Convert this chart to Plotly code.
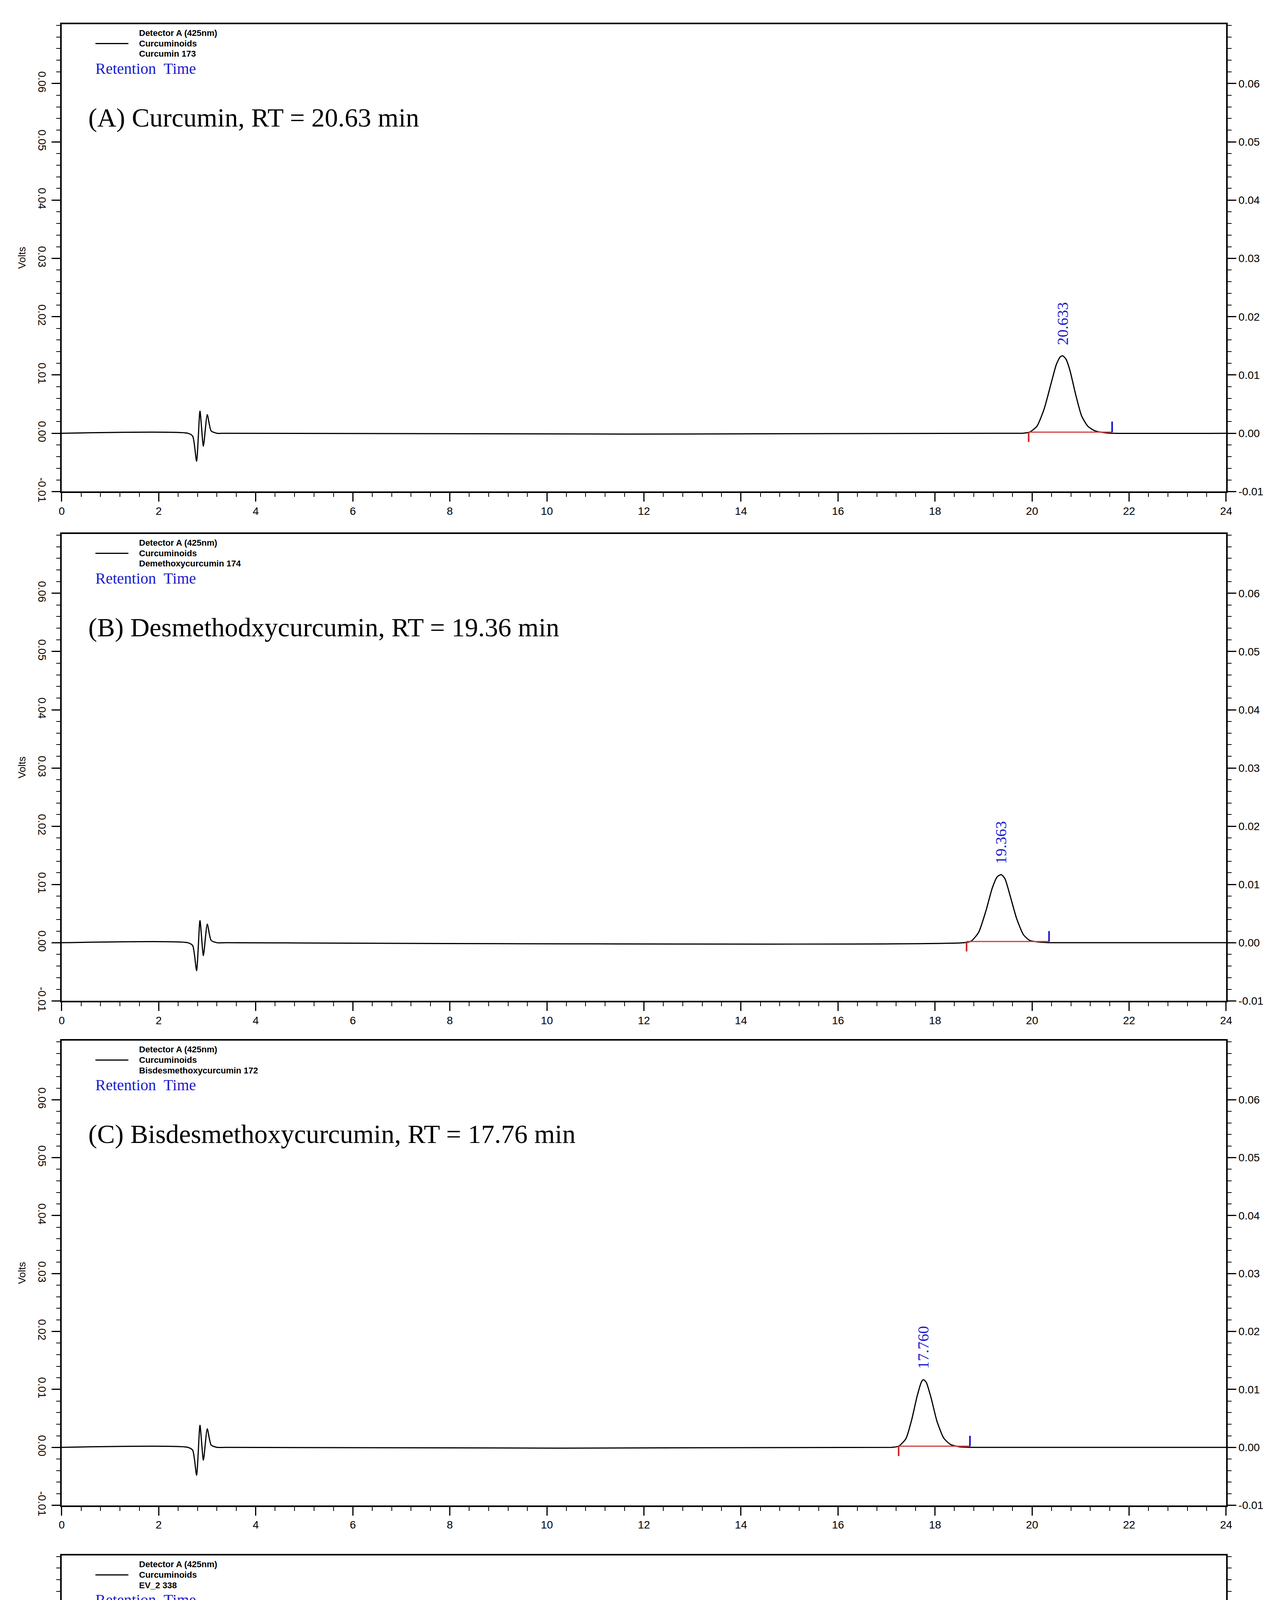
import plotly.graph_objects as go

# injection disturbance, shared by all runs (minutes, volts)
inj_t = [0.0, 2.6, 2.7, 2.78, 2.85, 2.92, 3.0, 3.08, 3.2, 3.4]
inj_v = [0.0, 0.0, -0.0005, -0.0048, 0.0038, -0.0022, 0.0032, 0.0004, 0.0, 0.0]

# chromatogram points after the injection, per run
peak_t = {
    "A": [3.4, 19.8, 19.95, 20.1, 20.25, 20.4, 20.5, 20.58, 20.63, 20.7, 20.78, 20.9, 21.02, 21.15, 21.3, 21.5, 21.7, 24.0],
    "B": [3.4, 18.6, 18.75, 18.9, 19.05, 19.18, 19.28, 19.363, 19.44, 19.55, 19.68, 19.82, 19.95, 20.15, 20.4, 24.0],
    "C": [3.4, 17.1, 17.25, 17.4, 17.52, 17.63, 17.72, 17.76, 17.82, 17.92, 18.04, 18.18, 18.32, 18.5, 18.8, 24.0],
    "D": [3.4, 5.0, 5.2, 5.4, 10.3, 10.5, 10.7, 17.2, 17.45, 17.6, 17.75, 17.88, 17.983, 18.08, 18.2, 18.35, 18.5, 18.65,
          18.8, 18.95, 19.1, 19.2, 19.26, 19.33, 19.45, 19.6, 19.75, 19.9, 20.05, 20.2, 20.35, 20.48, 20.587, 20.68,
          20.82, 20.98, 21.15, 21.35, 21.6, 22.6, 24.0],
}
peak_v = {
    "A": [0.0, 0.0, 0.0002, 0.0012, 0.0042, 0.0088, 0.0118, 0.0131, 0.0133, 0.0127, 0.0108, 0.0066, 0.003, 0.0012, 0.0004, 0.0001, 0.0, 0.0],
    "B": [0.0, 0.0, 0.0003, 0.0018, 0.0055, 0.0094, 0.0113, 0.0117, 0.011, 0.008, 0.0042, 0.0014, 0.0004, 0.0001, 0.0, 0.0],
    "C": [0.0, 0.0, 0.0002, 0.0015, 0.0048, 0.0088, 0.0113, 0.0117, 0.0112, 0.0085, 0.0045, 0.0016, 0.0005, 0.0001, 0.0, 0.0],
    "D": [0.0, 0.0, 0.0004, 0.0, 0.0, 0.0002, 0.0, 0.0, 0.0004, 0.0025, 0.0085, 0.0165, 0.019, 0.0172, 0.0112, 0.0045, 0.0012,
          0.0002, 0.0014, 0.0055, 0.0112, 0.0148, 0.0155, 0.0145, 0.0098, 0.004, 0.0011, 0.0002, 0.0012, 0.0065, 0.0175,
          0.0272, 0.031, 0.0285, 0.0185, 0.0075, 0.0022, 0.0006, 0.0001, 0.0, 0.0],
}

# integration marks
red_marks = {"A": [19.93], "B": [18.65], "C": [17.25], "D": [17.43, 18.66, 19.9]}
blue_marks = {"A": [21.65], "B": [20.35], "C": [18.72], "D": [18.66, 19.9, 21.75]}
rt_labels = {"A": [20.633], "B": [19.363], "C": [17.76], "D": [17.983, 19.26, 20.587]}
rt_text = {"A": ["20.633"], "B": ["19.363"], "C": ["17.760"], "D": ["17.983", "19.260", "20.587"]}
rt_height = {"A": [0.0133], "B": [0.0117], "C": [0.0117], "D": [0.019, 0.0155, 0.031]}

sample_names = {"A": "Curcumin 173", "B": "Demethoxycurcumin 174", "C": "Bisdesmethoxycurcumin 172", "D": "EV_2 338"}
titles = {"A": "(A) Curcumin, RT = 20.63 min", "B": "(B) Desmethodxycurcumin, RT = 19.36 min",
          "C": "(C) Bisdesmethoxycurcumin, RT = 17.76 min", "D": "(D) EV"}

x_ticks = list(range(0, 25, 2))
y_ticks = [-0.01, 0.0, 0.01, 0.02, 0.03, 0.04, 0.05, 0.06]
y_tick_text = ["-0.01", "0.00", "0.01", "0.02", "0.03", "0.04", "0.05", "0.06"]

W, H = 3282, 5301
plot_px = {"A": (54, 1257), "B": (1366, 2568), "C": (2670, 3866), "D": (3995, 5187)}
xdom = [143 / W, 3146 / W]
yrange = [-0.01, 0.0702]
serif = "Liberation Serif"
sans = "Liberation Sans"

fig = go.Figure()
layout = {}
for i, key in enumerate(["A", "B", "C", "D"]):
    n = i + 1
    xa, yl, yr = f"x{n}", f"y{2*n-1}", f"y{2*n}"
    top, bot = plot_px[key]
    ydom = [1 - bot / H, 1 - top / H]

    t = inj_t + peak_t[key][1:]
    v = inj_v + peak_v[key][1:]
    fig.add_trace(go.Scatter(x=t, y=v, mode="lines", line=dict(color="black", width=3, shape="spline", smoothing=0.6),
                             xaxis=xa, yaxis=yl, showlegend=False))
    # red integration baseline
    starts = red_marks[key]
    ends = blue_marks[key]
    fig.add_trace(go.Scatter(x=[starts[0], ends[-1]], y=[0.0002, 0.0002], mode="lines",
                             line=dict(color="#d04040", width=3), xaxis=xa, yaxis=yl, showlegend=False))
    for s in starts:
        fig.add_trace(go.Scatter(x=[s, s], y=[0.0002, -0.0015], mode="lines", line=dict(color="#cc2020", width=4),
                                 xaxis=xa, yaxis=yl, showlegend=False))
    for e in ends:
        fig.add_trace(go.Scatter(x=[e, e], y=[0.0002, 0.002], mode="lines", line=dict(color="#1010cc", width=4),
                                 xaxis=xa, yaxis=yl, showlegend=False))
    for rt, txt, h in zip(rt_labels[key], rt_text[key], rt_height[key]):
        fig.add_annotation(x=rt, y=h, xref=xa, yref=yl, text=txt, textangle=-90, showarrow=False,
                           yanchor="bottom", yshift=25, font=dict(family=serif, size=40, color="#1a1acc"))

    axis_common = dict(showline=True, linecolor="black", linewidth=4, ticks="outside", tickcolor="black",
                       tickwidth=3, showgrid=False, zeroline=False)
    layout[f"xaxis{n}"] = dict(domain=xdom, range=[0, 24], tickvals=x_ticks, ticklen=22, mirror=True,
                               minor=dict(dtick=0.4, ticklen=10, tickwidth=2, ticks="outside", tickcolor="black"),
                               anchor=yl, tickfont=dict(family=sans, size=28, color="black"), **axis_common)
    layout[f"yaxis{2*n-1}"] = dict(domain=ydom, range=yrange, tickvals=y_ticks, ticktext=y_tick_text, ticklen=22,
                                   tickangle=90, anchor=xa,
                                   minor=dict(dtick=0.002, ticklen=10, tickwidth=2, ticks="outside", tickcolor="black"),
                                   title=dict(text="Volts", font=dict(family=sans, size=26, color="black"), standoff=20),
                                   tickfont=dict(family=sans, size=28, color="black"), **axis_common)
    layout[f"yaxis{2*n}"] = dict(domain=ydom, range=yrange, tickvals=y_ticks, ticktext=y_tick_text, ticklen=22,
                                 overlaying=yl, side="right", anchor=xa,
                                 minor=dict(dtick=0.002, ticklen=10, tickwidth=2, ticks="outside", tickcolor="black"),
                                 tickfont=dict(family=sans, size=28, color="black"), **axis_common)
    # invisible trace so the right axis is shown
    fig.add_trace(go.Scatter(x=[0], y=[0], mode="markers", marker=dict(opacity=0), xaxis=xa, yaxis=yr,
                             showlegend=False, hoverinfo="skip"))

    # legend block in the upper left
    ytop = 1 - top / H
    for k, line_txt in enumerate(["Detector A (425nm)", "Curcuminoids", sample_names[key]]):
        fig.add_annotation(x=340 / W, y=ytop - (8 + 27 * k) / H, xref="paper", yref="paper",
                           text=f"<b>{line_txt}</b>", showarrow=False, xanchor="left", yanchor="top",
                           font=dict(family=sans, size=22, color="black"))
    fig.add_shape(type="line", xref="paper", yref="paper", x0=230 / W, x1=315 / W,
                  y0=ytop - 50 / H, y1=ytop - 50 / H, line=dict(color="black", width=3))
    fig.add_annotation(x=228 / W, y=ytop - 90 / H, xref="paper", yref="paper", text="Retention  Time",
                       showarrow=False, xanchor="left", yanchor="top", font=dict(family=serif, size=40, color="#1a1acc"))
    fig.add_annotation(x=(210 if key != "D" else 250) / W, y=ytop - 200 / H, xref="paper", yref="paper",
                       text=titles[key], showarrow=False, xanchor="left", yanchor="top",
                       font=dict(family=serif, size=68, color="black"))

layout["xaxis4"]["title"] = dict(text="Minutes", font=dict(family=sans, size=26, color="black"), standoff=10)

fig.update_layout(width=W, height=H, margin=dict(l=0, r=0, t=0, b=0), plot_bgcolor="white",
                  paper_bgcolor="white", showlegend=False, font=dict(color="black"), **layout)
fig.write_html("out.html")
